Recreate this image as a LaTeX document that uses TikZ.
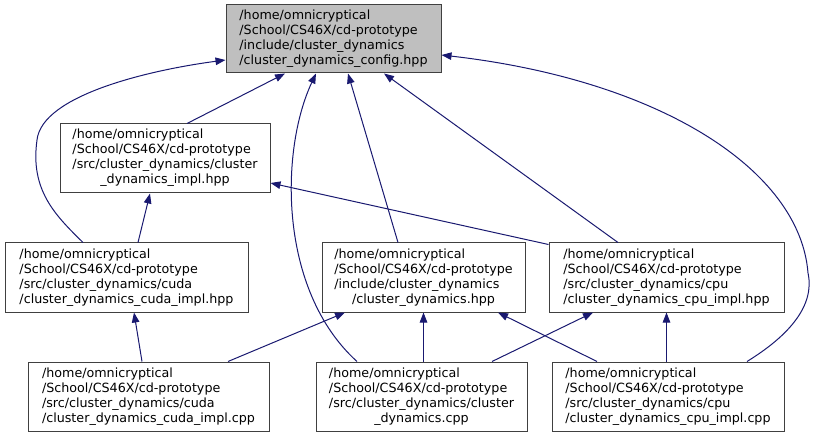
\documentclass[tikz,border=0pt]{standalone}
\usepackage{fontspec}
\setmainfont{DejaVu Sans}
\usepackage{tikz}
\usetikzlibrary{arrows.meta}
\definecolor{edge}{RGB}{25,25,112}
\definecolor{frame}{RGB}{64,64,64}
\definecolor{focus}{RGB}{191,191,191}
\newcommand{\flabel}[1]{\begin{tabular}{@{}l@{}}#1\end{tabular}}
\newcommand{\midline}[1]{\multicolumn{1}{@{}c@{}}{#1}}
\tikzset{
  file/.style={draw=frame, line width=1pt, fill=white, inner sep=0pt,
              minimum height=69pt, font=\fontsize{12.7}{15}\selectfont},
  focusfile/.style={file, fill=focus, minimum height=68pt},
  dep/.style={-{Triangle[length=10pt,width=7.5pt]}, edge, line width=1pt},
}
\begin{document}
\begin{tikzpicture}[x=1pt,y=1pt]
    \useasboundingbox (0,0) rectangle (814,437);
    % files
    \node[focusfile,minimum width=215pt] (config) at (333.5,398)
      {\flabel{/home/omnicryptical\\/School/CS46X/cd-prototype\\/include/cluster\_dynamics\\/cluster\_dynamics\_config.hpp}};
    \node[file,minimum width=210pt] (impl) at (165,278.5)
      {\flabel{/home/omnicryptical\\/School/CS46X/cd-prototype\\/src/cluster\_dynamics/cluster\\\midline{\_dynamics\_impl.hpp}}};
    \node[file,minimum width=243pt] (cudahpp) at (126.5,159.5)
      {\flabel{/home/omnicryptical\\/School/CS46X/cd-prototype\\/src/cluster\_dynamics/cuda\\/cluster\_dynamics\_cuda\_impl.hpp}};
    \node[file,minimum width=203pt] (cdhpp) at (423.5,159.5)
      {\flabel{/home/omnicryptical\\/School/CS46X/cd-prototype\\/include/cluster\_dynamics\\\midline{/cluster\_dynamics.hpp}}};
    \node[file,minimum width=235pt] (cpuhpp) at (666.5,159.5)
      {\flabel{/home/omnicryptical\\/School/CS46X/cd-prototype\\/src/cluster\_dynamics/cpu\\/cluster\_dynamics\_cpu\_impl.hpp}};
    \node[file,minimum width=241pt] (cudacpp) at (148.5,40.5)
      {\flabel{/home/omnicryptical\\/School/CS46X/cd-prototype\\/src/cluster\_dynamics/cuda\\/cluster\_dynamics\_cuda\_impl.cpp}};
    \node[file,minimum width=211pt] (cdcpp) at (421.5,40.5)
      {\flabel{/home/omnicryptical\\/School/CS46X/cd-prototype\\/src/cluster\_dynamics/cluster\\\midline{\_dynamics.cpp}}};
    \node[file,minimum width=232pt] (cpucpp) at (668,40.5)
      {\flabel{/home/omnicryptical\\/School/CS46X/cd-prototype\\/src/cluster\_dynamics/cpu\\/cluster\_dynamics\_cpu\_impl.cpp}};
    % includes of the config header
    \draw[dep] ([xshift=-43.5pt]cudahpp.north) .. controls (55,222) and (30,247) .. (37,297)
      .. controls (42,342) and (150,367) .. ([yshift=-21pt]config.west);
    \draw[dep] ([xshift=22pt]impl.north) -- ([xshift=-48.5pt]config.south);
    \draw[dep] ([xshift=-64.5pt]cdcpp.north) .. controls (278,147) and (280,287) .. ([xshift=-17.5pt]config.south);
    \draw[dep] ([xshift=-25.5pt]cdhpp.north) -- ([xshift=14.5pt]config.south);
    \draw[dep] ([xshift=-48.5pt]cpuhpp.north) -- ([xshift=50.5pt]config.south);
    \draw[dep] ([xshift=79pt]cpucpp.north) .. controls (790,102) and (815,132) .. (808,164)
      .. controls (800,267) and (660,357) .. ([yshift=-16pt]config.east);
    % includes of the impl header
    \draw[dep] ([xshift=11.5pt]cudahpp.north) -- ([xshift=-15pt]impl.south);
    \draw[dep] ([yshift=-2pt]cpuhpp.north west) -- ([yshift=-24.5pt]impl.east);
    % lower row
    \draw[dep] ([xshift=-6.5pt]cudacpp.north) -- ([xshift=7.5pt]cudahpp.south);
    \draw[dep] ([xshift=79.5pt]cudacpp.north) -- ([xshift=-78.5pt]cdhpp.south);
    \draw[dep] (cdcpp.north -| cdhpp.south) -- (cdhpp.south);
    \draw[dep] ([xshift=-71pt]cpucpp.north) -- ([xshift=74.5pt]cdhpp.south);
    \draw[dep] ([xshift=70.5pt]cdcpp.north) -- ([xshift=-73.5pt]cpuhpp.south);
    \draw[dep] (cpucpp.north -| cpuhpp.south) -- (cpuhpp.south);
\end{tikzpicture}
\end{document}
